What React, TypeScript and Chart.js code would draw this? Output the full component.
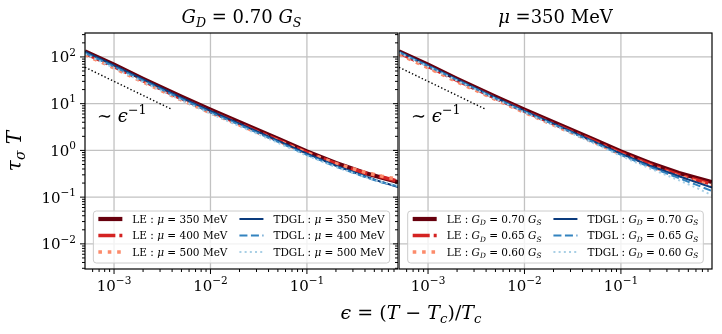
import React, { useEffect, useRef } from 'react';
import { Chart, registerables } from 'chart.js';

Chart.register(...registerables);

// ---------------- data ----------------
const EPS = [5e-4, 1e-3, 2e-3, 5e-3, 1e-2, 2e-2, 5e-2, 0.1, 0.2, 0.4, 0.6, 0.88];

// left panel: G_D = 0.70 G_S, varying mu
const LE_MU350 = [132, 68, 34, 14.1, 7.4, 4.0, 1.78, 0.95, 0.54, 0.33, 0.26, 0.21];
const LE_MU400 = [120, 62, 31, 12.8, 6.8, 3.7, 1.66, 0.9, 0.52, 0.33, 0.27, 0.22];
const LE_MU500 = [112, 58, 29, 12.0, 6.4, 3.5, 1.6, 0.88, 0.52, 0.34, 0.28, 0.24];
const TDGL_MU350 = [130, 66, 33, 13.5, 7.0, 3.75, 1.62, 0.85, 0.47, 0.28, 0.21, 0.165];
const TDGL_MU400 = [122, 62, 31, 12.6, 6.5, 3.5, 1.52, 0.8, 0.45, 0.27, 0.205, 0.17];
const TDGL_MU500 = [115, 58, 29, 11.8, 6.1, 3.3, 1.45, 0.77, 0.44, 0.27, 0.21, 0.175];

// right panel: mu = 350 MeV, varying G_D
const LE_G070 = [132, 68, 34, 14.1, 7.4, 4.0, 1.78, 0.95, 0.54, 0.33, 0.26, 0.21];
const LE_G065 = [122, 63, 31.5, 13.1, 6.9, 3.7, 1.66, 0.88, 0.5, 0.3, 0.235, 0.19];
const LE_G060 = [115, 59, 29.5, 12.3, 6.5, 3.5, 1.56, 0.83, 0.47, 0.28, 0.22, 0.175];
const TDGL_G070 = [130, 66, 33, 13.5, 7.0, 3.75, 1.62, 0.85, 0.47, 0.28, 0.21, 0.16];
const TDGL_G065 = [126, 64, 32, 13.0, 6.75, 3.6, 1.55, 0.8, 0.44, 0.255, 0.185, 0.135];
const TDGL_G060 = [122, 62, 31, 12.6, 6.5, 3.45, 1.48, 0.76, 0.41, 0.23, 0.16, 0.11];

// reference slope line ~ eps^-1
const REF_EPS = [5e-4, 4e-3];
const REF_VAL = [60, 7.5];

// axes
const X_MIN = 5e-4;
const X_MAX = 0.88;
const Y_MIN = 2.9e-3;
const Y_MAX = 325;
const X_MAJOR = [1e-3, 1e-2, 1e-1];
const X_EXP = ['−3', '−2', '−1'];
const Y_MAJOR = [1e-2, 1e-1, 1, 10, 100];
const Y_EXP = ['−2', '−1', '0', '1', '2'];

// ---------------- drawing helpers ----------------
const FONT = "'DejaVu Serif', serif";

type Seg = { t: string; it?: boolean; sub?: boolean; sup?: boolean };

function segFont(s: Seg, size: number) {
  const sz = s.sub || s.sup ? size * 0.7 : size;
  return `${s.it ? 'italic ' : ''}${sz}px ${FONT}`;
}
function richWidth(ctx: CanvasRenderingContext2D, segs: Seg[], size: number) {
  let w = 0;
  for (const s of segs) {
    ctx.font = segFont(s, size);
    w += ctx.measureText(s.t).width;
  }
  return w;
}
function drawRich(
  ctx: CanvasRenderingContext2D,
  segs: Seg[],
  x: number,
  y: number,
  size: number,
  align: 'left' | 'center' | 'right' = 'left'
) {
  const w = richWidth(ctx, segs, size);
  let cx = align === 'center' ? x - w / 2 : align === 'right' ? x - w : x;
  ctx.textAlign = 'left';
  ctx.textBaseline = 'alphabetic';
  ctx.fillStyle = '#000';
  for (const s of segs) {
    ctx.font = segFont(s, size);
    const dy = s.sub ? size * 0.22 : s.sup ? -size * 0.45 : 0;
    ctx.fillText(s.t, cx, y + dy);
    cx += ctx.measureText(s.t).width;
  }
  return w;
}

function minorValues(min: number, max: number) {
  const out: number[] = [];
  for (let e = -5; e <= 3; e++) {
    for (let m = 2; m <= 9; m++) {
      const v = m * Math.pow(10, e);
      if (v > min && v < max) out.push(v);
    }
  }
  return out;
}

// ---------------- panel specs ----------------
interface SeriesSpec {
  label: Seg[];
  values: number[];
  color: string;
  width: number;
  dash: number[];
  order: number;
}
interface PanelSpec {
  title: Seg[];
  series: SeriesSpec[];
  showY: boolean;
  left: number;
  width: number;
  padLeft: number;
  padRight: number;
}

const C_LE1 = '#67000d';
const C_LE2 = '#d42322';
const C_LE3 = '#fc8b6b';
const C_TD1 = '#0b3b7d';
const C_TD2 = '#3383bf';
const C_TD3 = '#a8cfe5';

const DASHDOT = [17, 4, 4, 4];
const DOTTED_THICK = [3.6, 5.8];
const DASHED = [8, 3.5];
const DOTTED_THIN = [2, 3.2];

const muLabel = (kind: string, mu: string): Seg[] => [
  { t: `${kind} : ` },
  { t: 'μ', it: true },
  { t: ` = ${mu} MeV` },
];
const gLabel = (kind: string, g: string): Seg[] => [
  { t: `${kind} : ` },
  { t: 'G', it: true },
  { t: 'D', it: true, sub: true },
  { t: ` = ${g} ` },
  { t: 'G', it: true },
  { t: 'S', it: true, sub: true },
];

const LEFT_PANEL: PanelSpec = {
  title: [
    { t: 'G', it: true },
    { t: 'D', it: true, sub: true },
    { t: ' = 0.70 ' },
    { t: 'G', it: true },
    { t: 'S', it: true, sub: true },
  ],
  series: [
    { label: muLabel('LE', '350'), values: LE_MU350, color: C_LE1, width: 4.2, dash: [], order: 7 },
    { label: muLabel('LE', '400'), values: LE_MU400, color: C_LE2, width: 3.6, dash: DASHDOT, order: 6 },
    { label: muLabel('LE', '500'), values: LE_MU500, color: C_LE3, width: 3.6, dash: DOTTED_THICK, order: 5 },
    { label: muLabel('TDGL', '350'), values: TDGL_MU350, color: C_TD1, width: 2, dash: [], order: 4 },
    { label: muLabel('TDGL', '400'), values: TDGL_MU400, color: C_TD2, width: 2, dash: DASHED, order: 3 },
    { label: muLabel('TDGL', '500'), values: TDGL_MU500, color: C_TD3, width: 2, dash: DOTTED_THIN, order: 2 },
  ],
  showY: true,
  left: 0,
  width: 399,
  padLeft: 85,
  padRight: 1,
};

const RIGHT_PANEL: PanelSpec = {
  title: [{ t: 'μ', it: true }, { t: ' =350 MeV' }],
  series: [
    { label: gLabel('LE', '0.70'), values: LE_G070, color: C_LE1, width: 4.2, dash: [], order: 7 },
    { label: gLabel('LE', '0.65'), values: LE_G065, color: C_LE2, width: 3.6, dash: DASHDOT, order: 6 },
    { label: gLabel('LE', '0.60'), values: LE_G060, color: C_LE3, width: 3.6, dash: DOTTED_THICK, order: 5 },
    { label: gLabel('TDGL', '0.70'), values: TDGL_G070, color: C_TD1, width: 2, dash: [], order: 4 },
    { label: gLabel('TDGL', '0.65'), values: TDGL_G065, color: C_TD2, width: 2, dash: DASHED, order: 3 },
    { label: gLabel('TDGL', '0.60'), values: TDGL_G060, color: C_TD3, width: 2, dash: DOTTED_THIN, order: 2 },
  ],
  showY: false,
  left: 399,
  width: 323,
  padLeft: 0,
  padRight: 10,
};

const CANVAS_H = 334;
const PAD_TOP = 33;
const PAD_BOTTOM = 65;

function makeDecor(spec: PanelSpec) {
  return {
    id: 'decor',
    beforeDatasetsDraw(chart: any) {
      const { ctx, chartArea: a, scales } = chart;
      const xs = scales.x;
      const ys = scales.y;
      ctx.save();
      ctx.strokeStyle = '#c2c2c2';
      ctx.lineWidth = 1.3;
      ctx.setLineDash([]);
      for (const v of X_MAJOR) {
        const px = xs.getPixelForValue(v);
        ctx.beginPath();
        ctx.moveTo(px, a.top);
        ctx.lineTo(px, a.bottom);
        ctx.stroke();
      }
      for (const v of Y_MAJOR) {
        const py = ys.getPixelForValue(v);
        ctx.beginPath();
        ctx.moveTo(a.left, py);
        ctx.lineTo(a.right, py);
        ctx.stroke();
      }
      ctx.restore();
    },
    afterDatasetsDraw(chart: any) {
      const { ctx, chartArea: a, scales } = chart;
      const xs = scales.x;
      const ys = scales.y;
      ctx.save();
      ctx.setLineDash([]);

      // spines
      ctx.strokeStyle = '#000';
      ctx.lineWidth = 1.2;
      ctx.strokeRect(a.left, a.top, a.right - a.left, a.bottom - a.top);

      // ticks
      ctx.lineWidth = 1;
      const tick = (x1: number, y1: number, x2: number, y2: number) => {
        ctx.beginPath();
        ctx.moveTo(x1, y1);
        ctx.lineTo(x2, y2);
        ctx.stroke();
      };
      for (const v of X_MAJOR) {
        const px = xs.getPixelForValue(v);
        tick(px, a.bottom, px, a.bottom + 5);
      }
      for (const v of minorValues(X_MIN, X_MAX)) {
        const px = xs.getPixelForValue(v);
        tick(px, a.bottom, px, a.bottom + 3);
      }
      if (spec.showY) {
        for (const v of Y_MAJOR) {
          const py = ys.getPixelForValue(v);
          tick(a.left - 5, py, a.left, py);
          tick(a.right - 5, py, a.right, py);
        }
        for (const v of minorValues(Y_MIN, Y_MAX)) {
          const py = ys.getPixelForValue(v);
          tick(a.left - 3, py, a.left, py);
          tick(a.right - 3, py, a.right, py);
        }
      }

      // tick labels
      X_MAJOR.forEach((v, i) => {
        const px = xs.getPixelForValue(v);
        drawRich(ctx, [{ t: '10' }, { t: X_EXP[i], sup: true }], px, a.bottom + 22, 15, 'center');
      });
      if (spec.showY) {
        Y_MAJOR.forEach((v, i) => {
          const py = ys.getPixelForValue(v);
          drawRich(ctx, [{ t: '10' }, { t: Y_EXP[i], sup: true }], a.left - 9, py + 5.5, 15, 'right');
        });
      }

      // slope annotation
      drawRich(
        ctx,
        [{ t: '∼ ' }, { t: 'ϵ', it: true }, { t: '−1', sup: true }],
        a.left + 12,
        122,
        18
      );

      // legend (lower center)
      const fs = 10.5;
      const rowH = 16.5;
      const pad = 5;
      const hLen = 24;
      const hGap = 10;
      const colGap = 12;
      const w1 = Math.max(...spec.series.slice(0, 3).map((s) => richWidth(ctx, s.label, fs)));
      const w2 = Math.max(...spec.series.slice(3, 6).map((s) => richWidth(ctx, s.label, fs)));
      const boxW = pad + hLen + hGap + w1 + colGap + hLen + hGap + w2 + pad;
      const boxH = 52;
      const cx = (a.left + a.right) / 2;
      const bx = cx - boxW / 2;
      const by = a.bottom - 6 - boxH;
      ctx.beginPath();
      if ((ctx as any).roundRect) (ctx as any).roundRect(bx, by, boxW, boxH, 3);
      else ctx.rect(bx, by, boxW, boxH);
      ctx.fillStyle = 'rgba(255,255,255,0.8)';
      ctx.fill();
      ctx.strokeStyle = '#cccccc';
      ctx.lineWidth = 1;
      ctx.stroke();
      spec.series.forEach((s, i) => {
        const col = i < 3 ? 0 : 1;
        const row = i % 3;
        const x0 = bx + pad + col * (hLen + hGap + w1 + colGap);
        const y = by + 8 + row * rowH;
        ctx.save();
        ctx.strokeStyle = s.color;
        ctx.lineWidth = s.width;
        ctx.lineCap = 'butt';
        ctx.setLineDash(s.dash);
        ctx.beginPath();
        ctx.moveTo(x0, y);
        ctx.lineTo(x0 + hLen, y);
        ctx.stroke();
        ctx.restore();
        drawRich(ctx, s.label, x0 + hLen + hGap, y + 3.8, fs);
      });

      // title
      drawRich(ctx, spec.title, (a.left + a.right) / 2, 23, 18, 'center');

      // y-axis label
      if (spec.showY) {
        ctx.save();
        ctx.translate(21, (a.top + a.bottom) / 2);
        ctx.rotate(-Math.PI / 2);
        drawRich(
          ctx,
          [{ t: 'τ', it: true }, { t: 'σ', it: true, sub: true }, { t: ' ' }, { t: 'T', it: true }],
          0,
          0,
          20,
          'center'
        );
        ctx.restore();
      }
      ctx.restore();
    },
  };
}

function Panel({ spec }: { spec: PanelSpec }) {
  const ref = useRef<HTMLCanvasElement>(null);
  useEffect(() => {
    const canvas = ref.current;
    if (!canvas) return;
    const datasets: any[] = spec.series.map((s) => ({
      data: EPS.map((x, i) => ({ x, y: s.values[i] })),
      borderColor: s.color,
      backgroundColor: s.color,
      borderWidth: s.width,
      borderDash: s.dash,
      borderCapStyle: 'butt',
      borderJoinStyle: 'round',
      pointRadius: 0,
      fill: false,
      tension: 0,
      order: s.order,
      clip: 0,
    }));
    datasets.push({
      data: REF_EPS.map((x, i) => ({ x, y: REF_VAL[i] })),
      borderColor: '#000',
      borderWidth: 1.4,
      borderDash: [1.4, 2.2],
      pointRadius: 0,
      fill: false,
      order: 1,
      clip: 0,
    });
    const chart = new Chart(canvas, {
      type: 'line',
      data: { datasets },
      options: {
        animation: false,
        responsive: false,
        maintainAspectRatio: false,
        events: [],
        layout: {
          padding: { left: spec.padLeft, right: spec.padRight, top: PAD_TOP, bottom: PAD_BOTTOM },
        },
        scales: {
          x: { type: 'logarithmic', min: X_MIN, max: X_MAX, display: false },
          y: { type: 'logarithmic', min: Y_MIN, max: Y_MAX, display: false },
        },
        plugins: {
          legend: { display: false },
          tooltip: { enabled: false },
          title: { display: false },
        },
      } as any,
      plugins: [makeDecor(spec) as any],
    });
    return () => chart.destroy();
  }, [spec]);
  return (
    <canvas
      ref={ref}
      width={spec.width}
      height={CANVAS_H}
      style={{ position: 'absolute', left: spec.left, top: 0, width: spec.width, height: CANVAS_H }}
    />
  );
}

const subStyle: React.CSSProperties = { fontSize: '70%', verticalAlign: '-0.3em', lineHeight: 0 };

export default function App() {
  return (
    <div
      style={{
        position: 'absolute',
        left: 0,
        top: 0,
        width: 722,
        height: 334,
        overflow: 'hidden',
        background: '#fff',
      }}
    >
      <Panel spec={LEFT_PANEL} />
      <Panel spec={RIGHT_PANEL} />
      <div
        style={{
          position: 'absolute',
          left: 411,
          top: 300,
          transform: 'translateX(-50%)',
          fontFamily: FONT,
          fontSize: 19,
          lineHeight: '24px',
          whiteSpace: 'nowrap',
          color: '#000',
        }}
      >
        <i>ϵ</i> = (<i>T</i> − <i>T</i>
        <sub style={subStyle}>
          <i>c</i>
        </sub>
        )/<i>T</i>
        <sub style={subStyle}>
          <i>c</i>
        </sub>
      </div>
    </div>
  );
}
